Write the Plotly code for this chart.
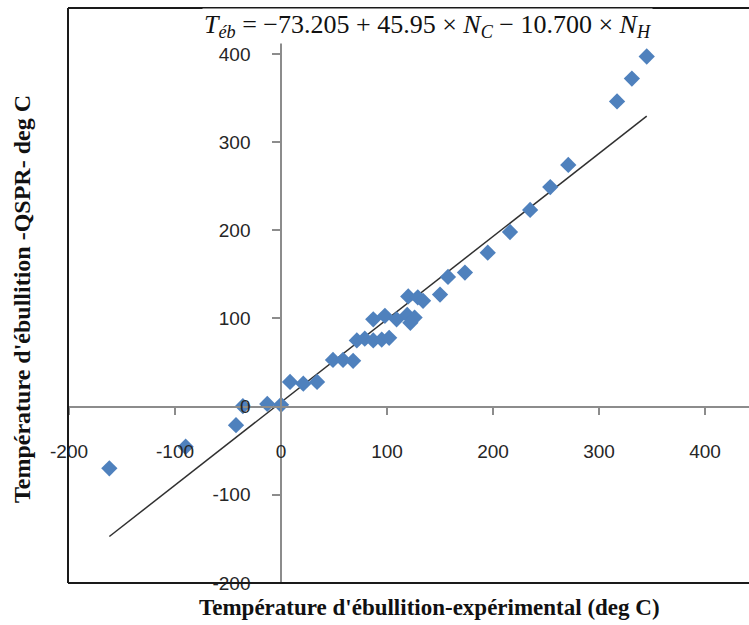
import numpy as np
import plotly.graph_objects as go

# Experimental vs QSPR-predicted boiling points (deg C)
t_exp = [-162, -90, -42.5, -36, -13, 0, 8.5, 21, 34, 49, 58.5, 68,
         71.5, 79, 87, 95, 102, 87, 98, 109, 119, 126, 122,
         120, 129, 134, 150, 157.5, 173.5, 195, 216, 235, 254, 271,
         317, 331, 345]
t_qspr = [-70, -45.5, -21, 0.5, 3, 2, 28, 26, 28, 53, 53, 52,
          75, 77, 75, 76, 78, 99, 103, 99, 104, 101, 95,
          125, 124, 120, 127, 147, 152, 174.5, 198, 223, 249, 274,
          346, 372, 397]

# Linear trend drawn through the cloud
trend_slope = 0.94
trend_intercept = 5.0

x_ticks = [-200, -100, 0, 100, 200, 300, 400]
y_ticks = [-200, -100, 0, 100, 200, 300, 400]

x_range = [-201, 441.5]
y_range = [-200, 452]

xs = np.array([min(t_exp), max(t_exp)])
ys = trend_slope * xs + trend_intercept

fig = go.Figure()
fig.add_trace(go.Scatter(
    x=xs, y=ys, mode="lines",
    line=dict(color="#303030", width=1.5),
    hoverinfo="skip", showlegend=False,
))
fig.add_trace(go.Scatter(
    x=t_exp, y=t_qspr, mode="markers",
    marker=dict(symbol="diamond", size=12.5, color="#4F81BD",
                line=dict(width=0)),
    showlegend=False,
))

tick_font = dict(family="Liberation Sans, Arial, sans-serif", size=19, color="#262626")
serif = "Liberation Serif, Times New Roman, serif"

fig.update_layout(
    width=749, height=625,
    margin=dict(l=68, r=0, t=8, b=42),
    paper_bgcolor="white", plot_bgcolor="white",
    xaxis=dict(
        range=x_range, tickvals=x_ticks, ticktext=[str(v) for v in x_ticks],
        showgrid=False, zeroline=False,
        showline=True, linecolor="#8C8C8C", linewidth=1.5,
        ticks="outside", ticklen=8, tickcolor="#8C8C8C", tickwidth=1.5,
        ticklabelstandoff=20,
        anchor="free", position=(0 - y_range[0]) / (y_range[1] - y_range[0]),
        tickfont=tick_font,
    ),
    yaxis=dict(
        range=y_range, tickvals=y_ticks, ticktext=[str(v) for v in y_ticks],
        showgrid=False, zeroline=False,
        showline=True, linecolor="#8C8C8C", linewidth=1.5,
        ticks="outside", ticklen=8, tickcolor="#8C8C8C", tickwidth=1.5,
        ticklabelstandoff=18,
        anchor="free", position=(0 - x_range[0]) / (x_range[1] - x_range[0]),
        tickfont=tick_font,
    ),
    shapes=[
        dict(type="line", xref="paper", yref="paper", x0=0, x1=1, y0=1, y1=1,
             line=dict(color="#1a1a1a", width=2)),
        dict(type="line", xref="paper", yref="paper", x0=0, x1=1, y0=0, y1=0,
             line=dict(color="#1a1a1a", width=2)),
        dict(type="line", xref="paper", yref="paper", x0=0, x1=0, y0=0, y1=1,
             line=dict(color="#1a1a1a", width=2)),
    ],
    annotations=[
        dict(text="<i>T</i><sub><i>éb</i></sub> = −73.205 + 45.95 × <i>N</i><sub><i>C</i></sub>"
                  " − 10.700 × <i>N</i><sub><i>H</i></sub>",
             xref="paper", yref="paper", x=(427 - 68) / 681, y=1 - (26 - 8) / 575,
             xanchor="center", yanchor="middle", showarrow=False,
             bgcolor="white", borderpad=1,
             font=dict(family=serif, size=26, color="#111111")),
        dict(text="<b>Température d'ébullition-expérimental (deg C)</b>",
             xref="paper", yref="paper", x=(429 - 68) / 681, y=-(607 - 583) / 575,
             xanchor="center", yanchor="middle", showarrow=False,
             font=dict(family=serif, size=23, color="#111111")),
        dict(text="<b>Température d'ébullition -QSPR- deg C</b>",
             xref="paper", yref="paper", x=-(68 - 22) / 681, y=(583 - 299) / 575,
             xanchor="center", yanchor="middle", showarrow=False, textangle=-90,
             font=dict(family=serif, size=24, color="#111111")),
    ],
)

fig.write_html("out.html")
